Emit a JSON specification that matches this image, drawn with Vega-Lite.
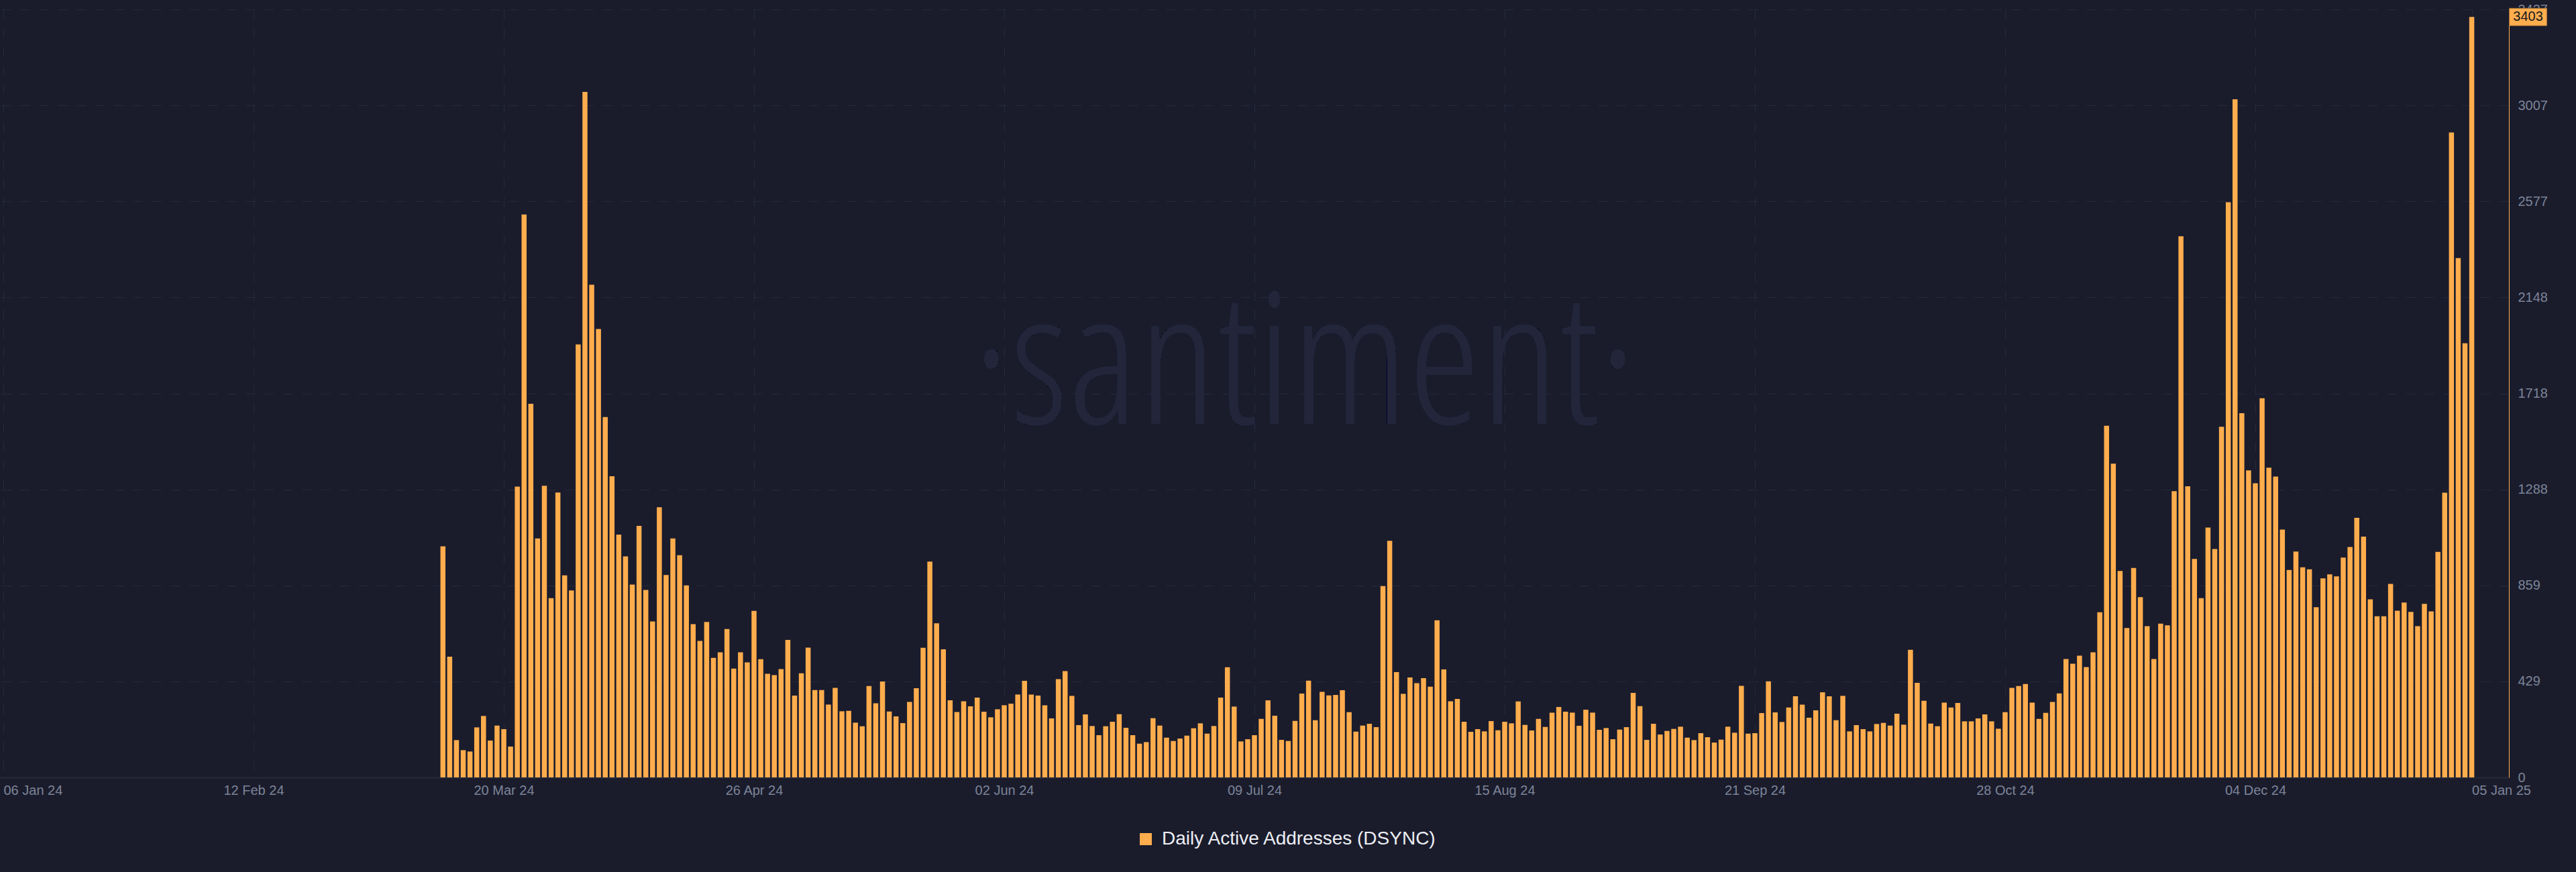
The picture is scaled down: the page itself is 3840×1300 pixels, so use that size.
{
  "$schema": "https://vega.github.io/schema/vega-lite/v6.json",
  "width": 3740,
  "height": 1145,
  "autosize": {"type": "none"},
  "padding": {"left": 0, "top": 14, "right": 100, "bottom": 141},
  "background": "#1a1c2c",
  "config": {"view": {"stroke": null}, "font": "Liberation Sans"},
  "data": {
    "values": [
      {"d":"2024-03-11","v":1034},{"d":"2024-03-12","v":540},{"d":"2024-03-13","v":167},{"d":"2024-03-14","v":122},{"d":"2024-03-15","v":116},{"d":"2024-03-16","v":224},{"d":"2024-03-17","v":275},{"d":"2024-03-18","v":165},{"d":"2024-03-19","v":232},{"d":"2024-03-20","v":216},{"d":"2024-03-21","v":138},{"d":"2024-03-22","v":1301},{"d":"2024-03-23","v":2519},{"d":"2024-03-24","v":1672},{"d":"2024-03-25","v":1069},{"d":"2024-03-26","v":1305},{"d":"2024-03-27","v":802},{"d":"2024-03-28","v":1275},{"d":"2024-03-29","v":904},{"d":"2024-03-30","v":837},{"d":"2024-03-31","v":1938},
      {"d":"2024-04-01","v":3068},{"d":"2024-04-02","v":2205},{"d":"2024-04-03","v":2007},{"d":"2024-04-04","v":1613},{"d":"2024-04-05","v":1348},{"d":"2024-04-06","v":1087},{"d":"2024-04-07","v":989},{"d":"2024-04-08","v":863},{"d":"2024-04-09","v":1126},{"d":"2024-04-10","v":839},{"d":"2024-04-11","v":698},{"d":"2024-04-12","v":1209},{"d":"2024-04-13","v":906},{"d":"2024-04-14","v":1069},{"d":"2024-04-15","v":994},{"d":"2024-04-16","v":859},{"d":"2024-04-17","v":686},{"d":"2024-04-18","v":611},{"d":"2024-04-19","v":696},{"d":"2024-04-20","v":535},{"d":"2024-04-21","v":560},{"d":"2024-04-22","v":664},{"d":"2024-04-23","v":487},{"d":"2024-04-24","v":560},{"d":"2024-04-25","v":515},{"d":"2024-04-26","v":745},{"d":"2024-04-27","v":529},{"d":"2024-04-28","v":464},{"d":"2024-04-29","v":458},{"d":"2024-04-30","v":485},
      {"d":"2024-05-01","v":615},{"d":"2024-05-02","v":366},{"d":"2024-05-03","v":466},{"d":"2024-05-04","v":581},{"d":"2024-05-05","v":391},{"d":"2024-05-06","v":391},{"d":"2024-05-07","v":326},{"d":"2024-05-08","v":401},{"d":"2024-05-09","v":296},{"d":"2024-05-10","v":298},{"d":"2024-05-11","v":245},{"d":"2024-05-12","v":229},{"d":"2024-05-13","v":409},{"d":"2024-05-14","v":332},{"d":"2024-05-15","v":429},{"d":"2024-05-16","v":295},{"d":"2024-05-17","v":273},{"d":"2024-05-18","v":243},{"d":"2024-05-19","v":338},{"d":"2024-05-20","v":399},{"d":"2024-05-21","v":580},{"d":"2024-05-22","v":966},{"d":"2024-05-23","v":690},{"d":"2024-05-24","v":573},{"d":"2024-05-25","v":345},{"d":"2024-05-26","v":293},{"d":"2024-05-27","v":341},{"d":"2024-05-28","v":318},{"d":"2024-05-29","v":357},{"d":"2024-05-30","v":294},{"d":"2024-05-31","v":269},
      {"d":"2024-06-01","v":305},{"d":"2024-06-02","v":323},{"d":"2024-06-03","v":330},{"d":"2024-06-04","v":371},{"d":"2024-06-05","v":432},{"d":"2024-06-06","v":371},{"d":"2024-06-07","v":366},{"d":"2024-06-08","v":323},{"d":"2024-06-09","v":264},{"d":"2024-06-10","v":440},{"d":"2024-06-11","v":476},{"d":"2024-06-12","v":365},{"d":"2024-06-13","v":234},{"d":"2024-06-14","v":282},{"d":"2024-06-15","v":230},{"d":"2024-06-16","v":189},{"d":"2024-06-17","v":229},{"d":"2024-06-18","v":249},{"d":"2024-06-19","v":283},{"d":"2024-06-20","v":222},{"d":"2024-06-21","v":189},{"d":"2024-06-22","v":151},{"d":"2024-06-23","v":158},{"d":"2024-06-24","v":265},{"d":"2024-06-25","v":232},{"d":"2024-06-26","v":178},{"d":"2024-06-27","v":163},{"d":"2024-06-28","v":174},{"d":"2024-06-29","v":187},{"d":"2024-06-30","v":220},
      {"d":"2024-07-01","v":242},{"d":"2024-07-02","v":196},{"d":"2024-07-03","v":230},{"d":"2024-07-04","v":357},{"d":"2024-07-05","v":493},{"d":"2024-07-06","v":317},{"d":"2024-07-07","v":161},{"d":"2024-07-08","v":171},{"d":"2024-07-09","v":189},{"d":"2024-07-10","v":262},{"d":"2024-07-11","v":345},{"d":"2024-07-12","v":276},{"d":"2024-07-13","v":168},{"d":"2024-07-14","v":163},{"d":"2024-07-15","v":253},{"d":"2024-07-16","v":375},{"d":"2024-07-17","v":433},{"d":"2024-07-18","v":256},{"d":"2024-07-19","v":383},{"d":"2024-07-20","v":367},{"d":"2024-07-21","v":369},{"d":"2024-07-22","v":390},{"d":"2024-07-23","v":292},{"d":"2024-07-24","v":205},{"d":"2024-07-25","v":232},{"d":"2024-07-26","v":240},{"d":"2024-07-27","v":225},{"d":"2024-07-28","v":856},{"d":"2024-07-29","v":1059},{"d":"2024-07-30","v":471},{"d":"2024-07-31","v":374},
      {"d":"2024-08-01","v":447},{"d":"2024-08-02","v":422},{"d":"2024-08-03","v":444},{"d":"2024-08-04","v":406},{"d":"2024-08-05","v":703},{"d":"2024-08-06","v":483},{"d":"2024-08-07","v":341},{"d":"2024-08-08","v":351},{"d":"2024-08-09","v":249},{"d":"2024-08-10","v":204},{"d":"2024-08-11","v":216},{"d":"2024-08-12","v":206},{"d":"2024-08-13","v":252},{"d":"2024-08-14","v":211},{"d":"2024-08-15","v":249},{"d":"2024-08-16","v":242},{"d":"2024-08-17","v":340},{"d":"2024-08-18","v":235},{"d":"2024-08-19","v":210},{"d":"2024-08-20","v":262},{"d":"2024-08-21","v":226},{"d":"2024-08-22","v":290},{"d":"2024-08-23","v":315},{"d":"2024-08-24","v":294},{"d":"2024-08-25","v":290},{"d":"2024-08-26","v":231},{"d":"2024-08-27","v":303},{"d":"2024-08-28","v":290},{"d":"2024-08-29","v":213},{"d":"2024-08-30","v":221},{"d":"2024-08-31","v":171},
      {"d":"2024-09-01","v":214},{"d":"2024-09-02","v":225},{"d":"2024-09-03","v":378},{"d":"2024-09-04","v":319},{"d":"2024-09-05","v":168},{"d":"2024-09-06","v":240},{"d":"2024-09-07","v":192},{"d":"2024-09-08","v":208},{"d":"2024-09-09","v":217},{"d":"2024-09-10","v":227},{"d":"2024-09-11","v":178},{"d":"2024-09-12","v":167},{"d":"2024-09-13","v":198},{"d":"2024-09-14","v":180},{"d":"2024-09-15","v":156},{"d":"2024-09-16","v":169},{"d":"2024-09-17","v":227},{"d":"2024-09-18","v":200},{"d":"2024-09-19","v":410},{"d":"2024-09-20","v":196},{"d":"2024-09-21","v":198},{"d":"2024-09-22","v":288},{"d":"2024-09-23","v":430},{"d":"2024-09-24","v":291},{"d":"2024-09-25","v":248},{"d":"2024-09-26","v":313},{"d":"2024-09-27","v":363},{"d":"2024-09-28","v":326},{"d":"2024-09-29","v":267},{"d":"2024-09-30","v":300},
      {"d":"2024-10-01","v":381},{"d":"2024-10-02","v":363},{"d":"2024-10-03","v":256},{"d":"2024-10-04","v":365},{"d":"2024-10-05","v":206},{"d":"2024-10-06","v":234},{"d":"2024-10-07","v":216},{"d":"2024-10-08","v":206},{"d":"2024-10-09","v":239},{"d":"2024-10-10","v":244},{"d":"2024-10-11","v":232},{"d":"2024-10-12","v":285},{"d":"2024-10-13","v":236},{"d":"2024-10-14","v":571},{"d":"2024-10-15","v":423},{"d":"2024-10-16","v":343},{"d":"2024-10-17","v":241},{"d":"2024-10-18","v":229},{"d":"2024-10-19","v":335},{"d":"2024-10-20","v":313},{"d":"2024-10-21","v":333},{"d":"2024-10-22","v":251},{"d":"2024-10-23","v":251},{"d":"2024-10-24","v":264},{"d":"2024-10-25","v":282},{"d":"2024-10-26","v":251},{"d":"2024-10-27","v":218},{"d":"2024-10-28","v":292},{"d":"2024-10-29","v":401},{"d":"2024-10-30","v":409},{"d":"2024-10-31","v":418},
      {"d":"2024-11-01","v":335},{"d":"2024-11-02","v":262},{"d":"2024-11-03","v":289},{"d":"2024-11-04","v":338},{"d":"2024-11-05","v":376},{"d":"2024-11-06","v":530},{"d":"2024-11-07","v":509},{"d":"2024-11-08","v":545},{"d":"2024-11-09","v":494},{"d":"2024-11-10","v":560},{"d":"2024-11-11","v":739},{"d":"2024-11-12","v":1574},{"d":"2024-11-13","v":1404},{"d":"2024-11-14","v":924},{"d":"2024-11-15","v":669},{"d":"2024-11-16","v":937},{"d":"2024-11-17","v":807},{"d":"2024-11-18","v":677},{"d":"2024-11-19","v":530},{"d":"2024-11-20","v":688},{"d":"2024-11-21","v":681},{"d":"2024-11-22","v":1281},{"d":"2024-11-23","v":2422},{"d":"2024-11-24","v":1303},{"d":"2024-11-25","v":978},{"d":"2024-11-26","v":802},{"d":"2024-11-27","v":1118},{"d":"2024-11-28","v":1022},{"d":"2024-11-29","v":1569},{"d":"2024-11-30","v":2574},
      {"d":"2024-12-01","v":3035},{"d":"2024-12-02","v":1630},{"d":"2024-12-03","v":1374},{"d":"2024-12-04","v":1316},{"d":"2024-12-05","v":1697},{"d":"2024-12-06","v":1386},{"d":"2024-12-07","v":1346},{"d":"2024-12-08","v":1109},{"d":"2024-12-09","v":928},{"d":"2024-12-10","v":1011},{"d":"2024-12-11","v":940},{"d":"2024-12-12","v":931},{"d":"2024-12-13","v":762},{"d":"2024-12-14","v":891},{"d":"2024-12-15","v":909},{"d":"2024-12-16","v":900},{"d":"2024-12-17","v":984},{"d":"2024-12-18","v":1031},{"d":"2024-12-19","v":1162},{"d":"2024-12-20","v":1078},{"d":"2024-12-21","v":797},{"d":"2024-12-22","v":721},{"d":"2024-12-23","v":721},{"d":"2024-12-24","v":866},{"d":"2024-12-25","v":746},{"d":"2024-12-26","v":783},{"d":"2024-12-27","v":741},{"d":"2024-12-28","v":677},{"d":"2024-12-29","v":777},{"d":"2024-12-30","v":743},{"d":"2024-12-31","v":1009},
      {"d":"2025-01-01","v":1274},{"d":"2025-01-02","v":2886},{"d":"2025-01-03","v":2324},{"d":"2025-01-04","v":1943},{"d":"2025-01-05","v":3403}
    ],
    "format": {"parse": {"d": "utc:'%Y-%m-%d'"}}
  },
  "layer": [
    {
      "mark": {"type": "text", "fontSize": 274, "font": "Open Sans Condensed Light, Noto Sans Condensed, Open Sans Condensed, DejaVu Sans Condensed, Liberation Sans", "color": "#23263b", "align": "center", "baseline": "alphabetic"},
      "encoding": {
        "x": {"datum": {"year": 2024, "month": 7, "date": 16, "hours": 10, "utc": true}, "type": "temporal"},
        "y": {"datum": 1583, "type": "quantitative"},
        "text": {"value": "·santiment·"}
      }
    },
    {
      "mark": {"type": "bar", "size": 7.5},
      "encoding": {
        "x": {
          "field": "d", "type": "temporal",
          "scale": {"type": "utc", "domain": [{"year": 2024, "month": 1, "date": 6, "utc": true}, {"year": 2025, "month": 1, "date": 10, "utc": true}], "nice": false},
          "axis": {
            "title": null,
            "values": [
              {"year": 2024, "month": 1, "date": 6, "utc": true},
              {"year": 2024, "month": 2, "date": 12, "utc": true},
              {"year": 2024, "month": 3, "date": 20, "utc": true},
              {"year": 2024, "month": 4, "date": 26, "utc": true},
              {"year": 2024, "month": 6, "date": 2, "utc": true},
              {"year": 2024, "month": 7, "date": 9, "utc": true},
              {"year": 2024, "month": 8, "date": 15, "utc": true},
              {"year": 2024, "month": 9, "date": 21, "utc": true},
              {"year": 2024, "month": 10, "date": 28, "utc": true},
              {"year": 2024, "month": 12, "date": 4, "utc": true},
              {"year": 2025, "month": 1, "date": 5, "utc": true}
            ],
            "format": "%d %b %y",
            "grid": true, "gridDash": [14, 14], "gridColor": "#262a3b", "gridWidth": 1,
            "ticks": false,
            "domain": true, "domainColor": "#262a3b", "domainWidth": 2,
            "labelColor": "#7d8498", "labelFontSize": 20, "labelFont": "Liberation Sans",
            "labelPadding": 9, "labelOverlap": false, "labelFlush": false, "labelBound": false,
            "labelAlign": {"condition": {"test": "datum.value < utc(2024,0,10) || datum.value > utc(2025,0,1)", "value": "left"}, "value": "center"}
          }
        },
        "y": {
          "field": "v", "type": "quantitative",
          "scale": {"domain": [0, 3437], "nice": false, "zero": true},
          "axis": {
            "orient": "right", "title": null,
            "values": [0, 429.625, 859.25, 1288.875, 1718.5, 2148.125, 2577.75, 3007.375, 3437],
            "labelExpr": "'' + floor(datum.value)",
            "grid": true, "gridDash": [14, 14], "gridColor": "#262a3b", "gridWidth": 1,
            "ticks": false,
            "domain": true, "domainColor": "#ffad4d", "domainWidth": 1,
            "labelColor": "#7d8498", "labelFontSize": 20, "labelFont": "Liberation Sans",
            "labelPadding": 13, "labelOverlap": false, "labelBound": false, "labelFlush": false
          }
        },
        "color": {
          "datum": "Daily Active Addresses (DSYNC)", "type": "nominal",
          "scale": {"range": ["#ffad4d"]},
          "legend": {
            "orient": "none", "legendX": 1694, "legendY": 1223,
            "direction": "horizontal", "title": null,
            "symbolType": "square", "symbolSize": 324, "symbolStrokeWidth": 0,
            "labelColor": "#eceef3", "labelFontSize": 28, "labelFont": "Liberation Sans", "labelLimit": 0,
            "labelOffset": 10, "padding": 0, "offset": 0
          }
        }
      }
    },
    {
      "transform": [{"filter": "time(datum.d) == utc(2025,0,5)"}],
      "mark": {"type": "point", "shape": "M-1,-0.464L1,-0.464L1,0.464L-1,0.464Z", "size": 3136, "filled": true, "fill": "#ffad4d", "stroke": "#9c6a34", "strokeWidth": 1, "opacity": 1, "xOffset": 84},
      "encoding": {
        "x": {"field": "d", "type": "temporal"},
        "y": {"field": "v", "type": "quantitative"}
      }
    },
    {
      "transform": [{"filter": "time(datum.d) == utc(2025,0,5)"}],
      "mark": {"type": "text", "dx": 84, "align": "center", "baseline": "middle", "fontSize": 20, "font": "Liberation Sans", "color": "#15171f"},
      "encoding": {
        "x": {"field": "d", "type": "temporal"},
        "y": {"field": "v", "type": "quantitative"},
        "text": {"field": "v", "type": "quantitative"}
      }
    }
  ]
}
